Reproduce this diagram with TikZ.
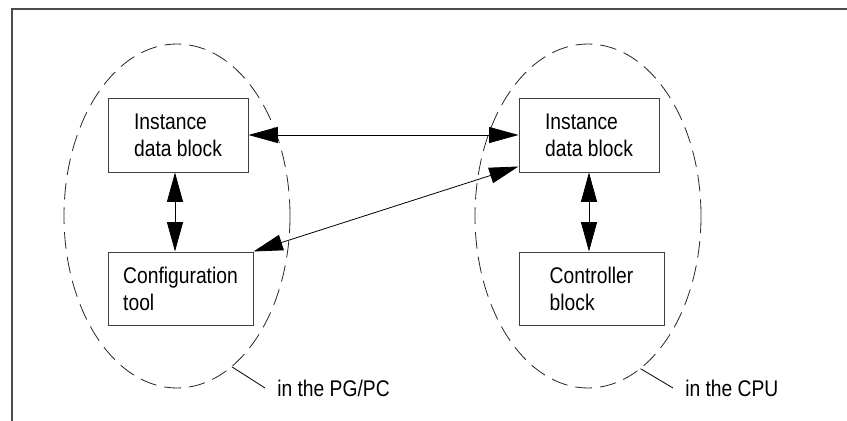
\documentclass[tikz,border=0pt]{standalone}
\usepackage{fontspec}
\setmainfont{Liberation Sans}[FakeStretch=0.85]
\usetikzlibrary{shapes.geometric,arrows.meta}
\begin{document}
\begin{tikzpicture}[x=0.75pt,y=-0.75pt,
  txt/.style={font={\fontsize{17}{20.25}\selectfont}},
  blk/.style={draw=black!75,line width=0.75pt,rectangle,inner sep=0pt,align=left,txt},
  zone/.style={draw=black!85,ellipse,dash pattern=on 12.5pt off 6pt,line width=0.6pt,inner sep=0pt,
    minimum width=169.5pt,minimum height=258pt},
  dbl/.style={line width=0.6pt,{Triangle[length=22pt,width=12pt]}-{Triangle[length=22pt,width=12pt]}},
  lead/.style={line width=0.6pt},
  lab/.style={txt,anchor=west,inner xsep=9pt,inner ysep=0pt}]
\useasboundingbox (0,0) rectangle (847,421);
% frame
\draw[line width=1.5pt,draw=black!70] (847,9) -- (12,9) -- (12,421);
% zones
\node[zone] (pg) at (177,216) {};
\node[zone] (cpu) at (588,216) {};
% blocks
\node[blk,minimum width=105pt,minimum height=55.5pt] (lidb) at (178,135) {Instance\\data block};
\node[blk,minimum width=108.75pt,minimum height=54.75pt] (cfg) at (180.5,288.5) {Configuration\\tool};
\node[blk,minimum width=105pt,minimum height=55.5pt] (ridb) at (589,135) {Instance\\data block};
\node[blk,minimum width=108.75pt,minimum height=54.75pt] (ctrl) at (591.5,288.5) {Controller\\block};
% arrows
\coordinate (lx) at (175,0);
\coordinate (rx) at (589,0);
\draw[dbl] (lidb.east) -- (ridb.west);
\draw[dbl] (cfg.north east) -- ([yshift=4.5pt]ridb.south west);
\draw[dbl] (lx |- lidb.south) -- (lx |- cfg.north);
\draw[dbl] (rx |- ridb.south) -- (rx |- ctrl.north);
% labels
\node[lab] (pglab) at (265,388) {in the PG/PC};
\node[lab] (cpulab) at (673,388) {in the CPU};
\draw[lead] (pg.-70.6) -- (pglab.west);
\draw[lead] (cpu.-71.9) -- (cpulab.west);
\end{tikzpicture}
\end{document}
